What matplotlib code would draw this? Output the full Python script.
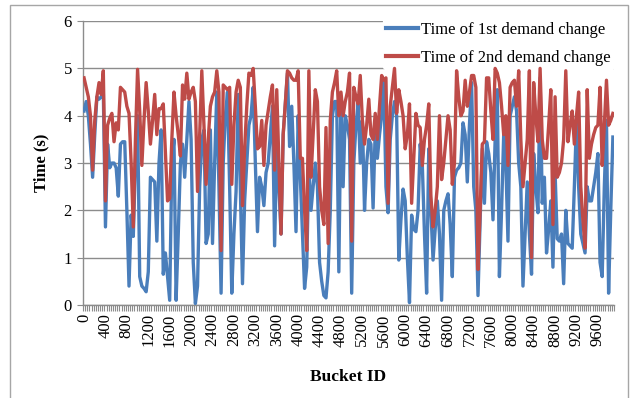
import matplotlib
matplotlib.use('Agg')
import matplotlib.pyplot as plt
from matplotlib.patches import Rectangle

# bucket ids 0, 40, 80, ... one value per bucket
bucket_step = 40
first_change = [
    4.1, 4.3, 4.0, 3.4, 2.7, 3.6, 4.4, 4.35, 4.4, 4.5,
    1.65, 3.4, 2.9, 3.0, 3.0, 2.9, 2.3, 3.4, 3.45, 3.45,
    2.0, 0.4, 1.9, 1.45, 3.0, 4.0, 0.6, 0.4, 0.35, 0.28,
    0.7, 2.7, 2.65, 2.6, 1.35, 3.0, 3.7, 0.65, 1.1, 0.6,
    0.1, 3.0, 3.5, 0.1, 1.5, 3.0, 3.4, 2.7, 3.5, 4.3,
    3.5, 0.9, 0.03, 0.4, 2.5, 3.5, 3.7, 1.3, 1.5, 3.7,
    1.3, 3.0, 4.5, 2.5, 0.25, 3.0, 4.0, 4.5, 2.5, 0.25,
    1.5, 2.4, 4.45, 2.5, 0.45, 2.2, 3.0, 3.8, 4.0, 4.6,
    3.0, 1.55, 2.7, 2.5, 2.1, 2.8, 3.0, 3.6, 4.2, 1.25,
    3.3, 2.5, 1.5, 3.6, 4.25, 4.9, 3.35, 4.2, 3.0, 1.55,
    4.0, 2.7, 1.5, 0.35, 0.8, 3.0, 2.0, 2.5, 3.0, 2.5,
    0.9, 0.5, 0.2, 0.15, 0.7, 2.0, 4.0, 4.3, 4.3, 0.7,
    4.4, 2.5, 4.0, 3.8, 3.5, 0.25, 3.0, 3.8, 4.25, 3.0,
    3.9, 2.0, 3.0, 3.5, 3.4, 2.05, 3.7, 3.1, 3.6, 4.0,
    4.75, 2.5, 1.95, 3.5, 4.0, 4.3, 4.0, 0.95, 1.8, 2.45,
    2.2, 1.0, 0.05, 1.9, 1.6, 1.55, 2.0, 3.4, 2.95, 1.5,
    0.25, 3.3, 2.0, 0.95, 1.6, 2.2, 1.5, 0.1, 2.0, 2.2,
    2.35, 1.7, 0.6, 2.7, 2.85, 2.9, 3.0, 3.85, 3.6, 2.6,
    3.8, 4.7, 2.5, 2.0, 0.2, 1.8, 3.3, 2.15, 3.45, 3.2,
    2.8, 1.8, 3.5, 4.55, 0.6, 2.0, 3.6, 3.0, 1.35, 4.0,
    4.2, 4.4, 4.1, 3.0, 2.5, 0.4, 1.5, 2.6, 1.5, 0.65,
    3.2, 2.5, 1.95, 4.8, 2.15, 2.7, 1.1, 1.6, 2.2, 0.8,
    2.8, 1.4, 1.35, 1.5, 0.45, 2.0, 1.3, 1.25, 1.2, 2.5,
    3.9, 2.5, 1.5, 1.3, 1.1, 2.5, 2.2, 2.2, 2.5, 2.8,
    3.2, 0.9, 0.6, 2.5, 3.9, 0.25, 2.0, 3.55,
]
second_change = [
    4.8, 4.6, 4.4, 4.0, 2.85, 3.9, 4.4, 4.7, 4.45, 4.95,
    2.2, 3.8, 3.95, 4.05, 3.45, 3.85, 3.7, 4.6, 4.55, 4.5,
    4.2, 4.05, 3.0, 1.65, 3.5, 4.98, 4.1, 2.95, 3.9, 4.7,
    4.1, 3.4, 3.9, 4.45, 3.6, 4.15, 4.15, 4.25, 3.2, 2.2,
    2.25, 3.5, 4.5, 4.0, 3.6, 3.15, 4.65, 4.35, 4.9, 4.35,
    4.5, 4.6, 4.3, 2.4, 3.6, 4.95, 3.8, 2.55, 3.5, 4.2,
    4.4, 4.5, 4.95, 4.5, 1.15, 4.65, 4.6, 4.55, 4.6, 2.55,
    3.8, 4.5, 4.75, 4.6, 2.1, 3.3, 4.2, 4.9, 4.85, 5.0,
    4.2, 3.3, 3.35, 3.9, 2.95, 3.8, 4.1, 4.4, 4.65, 2.85,
    4.55, 3.0, 1.5, 3.6, 4.25, 4.95, 4.9, 4.8, 4.75, 4.75,
    4.95, 3.1, 3.1, 2.0, 1.15, 4.95, 2.7, 3.6, 4.55, 4.3,
    2.5, 2.0, 1.7, 3.75, 1.3, 3.9, 4.5, 4.7, 4.95, 4.0,
    4.5, 4.0, 4.3, 4.5, 4.9, 1.35, 4.6, 4.4, 4.25, 4.85,
    3.9, 3.4, 3.8, 4.35, 3.6, 3.5, 4.05, 3.5, 4.2, 4.85,
    4.75, 4.8, 2.15, 4.2, 4.6, 5.0, 4.05, 4.55, 4.3, 4.0,
    3.3, 3.6, 4.25, 2.15, 3.1, 4.05, 3.8, 3.75, 2.95, 3.5,
    3.8, 4.25, 2.3, 1.65, 2.0, 2.5, 4.0, 2.65, 3.0, 3.5,
    4.0, 3.7, 2.55, 3.0, 4.95, 4.4, 4.0, 4.1, 4.75, 4.2,
    4.5, 4.85, 4.85, 4.6, 0.75, 2.0, 3.4, 3.45, 4.8, 4.8,
    4.1, 3.5, 5.0, 4.9, 4.7, 4.2, 3.6, 4.0, 2.95, 4.6,
    4.7, 4.75, 4.2, 4.95, 3.5, 2.5, 3.0, 3.5, 4.95, 1.0,
    4.7, 4.0, 3.45, 5.0, 3.5, 3.1, 3.1, 3.8, 4.55, 1.7,
    4.4, 2.7, 2.8, 3.0, 3.5, 4.95, 3.45, 3.8, 4.1, 3.4,
    4.0, 4.5, 2.5, 1.8, 1.2, 4.55, 3.1, 3.4, 3.6, 3.75,
    3.8, 4.6, 2.95, 3.8, 4.75, 3.8, 3.9, 4.05,
]

plt.rcParams['font.family'] = ['Liberation Serif', 'DejaVu Serif']

fig = plt.figure(figsize=(6.31, 3.98), dpi=100)
ax = fig.add_axes([0.1315, 0.2337, 0.8415, 0.7133])

idx = list(range(len(first_change)))
ax.plot(idx, first_change, color='#4A7EBB', lw=2.4, label='Time of 1st demand change',
        solid_joinstyle='round', zorder=3)
ax.plot(idx, second_change, color='#BE4B48', lw=2.4, label='Time of 2nd demand change',
        solid_joinstyle='round', zorder=4)

ax.set_xlim(-0.5, len(idx) - 0.5)
ax.set_ylim(0, 6)
ax.set_yticks(range(7))
ax.yaxis.grid(True, color='#8c8c8c', lw=1.0)
ax.set_axisbelow(True)

# labels every 10th bucket, small tick between each bucket
ax.set_xticks(idx[::10])
ax.set_xticklabels([str(i * bucket_step) for i in idx[::10]], rotation=90)
ax.set_xticks([i - 0.5 for i in idx] + [len(idx) - 0.5], minor=True)
ax.tick_params(axis='x', which='major', length=0, labelsize=12, pad=6)
ax.tick_params(axis='x', which='minor', length=4, color='#8c8c8c', width=0.8)
ax.tick_params(axis='y', length=4, color='#8c8c8c', labelsize=12, pad=4)

for s in ['top', 'right']:
    ax.spines[s].set_visible(False)
for s in ['left', 'bottom']:
    ax.spines[s].set_color('#8c8c8c')
    ax.spines[s].set_linewidth(1.0)

ax.set_xlabel('Bucket ID', fontsize=12.5, fontweight='bold', labelpad=16)
ax.set_ylabel('Time (s)', fontsize=12, fontweight='bold', labelpad=10)

leg = ax.legend(loc='upper right', bbox_to_anchor=(1.0, 1.01), frameon=True,
                fontsize=12, handlelength=1.9, handletextpad=0.2,
                borderpad=0.2, labelspacing=0.75, borderaxespad=0)
leg.get_frame().set_edgecolor('white')
leg.get_frame().set_facecolor('white')
leg.get_frame().set_alpha(1)
# legend box hides the top gridline but stays under the series
leg.set_zorder(2.5)
for h in leg.get_lines():
    h.set_linewidth(3)

# chart border
fig.patches.append(Rectangle((10 / 631, -0.05), 618 / 631, 1 - 5 / 398 + 0.05,
                             transform=fig.transFigure, fill=False,
                             edgecolor='#a6a6a6', lw=1.0))

fig.savefig('out.png', dpi=100)
